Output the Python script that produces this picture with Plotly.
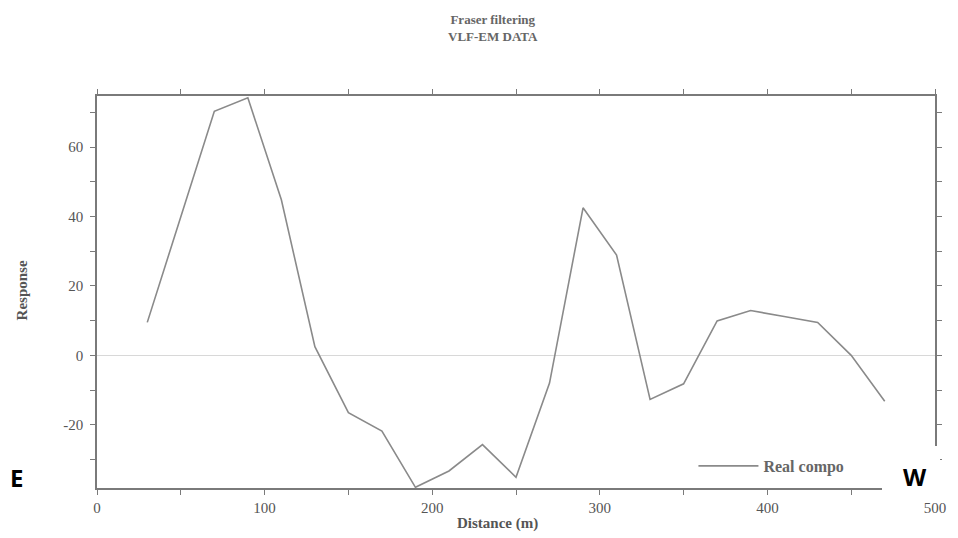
import plotly.graph_objects as go

distance = [30, 50, 70, 90, 110, 130, 150, 170, 190, 210, 230, 250,
            270, 290, 310, 330, 350, 370, 390, 410, 430, 450, 470]
real_component = [9.5, 40.0, 70.3, 74.2, 44.8, 2.5, -16.5, -21.8, -38.0, -33.3, -25.7, -35.1,
                  -8.0, 42.5, 28.9, -12.7, -8.2, 9.9, 12.9, 11.2, 9.5, 0.0, -13.2]

x_ticks = [0, 100, 200, 300, 400, 500]
y_ticks = [-20, 0, 20, 40, 60]

W, H = 958, 538
L, R, T, B = 97, 18, 96, 50
pw, ph = W - L - R, H - T - B

def px(xpix):
    return (xpix - L) / pw

def py(ypix):
    return (H - B - ypix) / ph

grey = "#7a7a7a"
txt = "#555555"
serif = "Liberation Serif, DejaVu Serif, serif"

fig = go.Figure()
fig.add_trace(go.Scatter(x=distance, y=real_component, mode="lines",
                         line=dict(color="#8a8a8a", width=1.6),
                         name="<b>Real compo</b>"))

axis_common = dict(showline=True, linecolor=grey, linewidth=1.5, mirror="ticks",
                   ticks="outside", ticklen=5, tickcolor=grey, tickwidth=1.2,
                   showgrid=False, tickfont=dict(family=serif, size=15, color=txt))

fig.update_xaxes(range=[0, 500], tickvals=x_ticks, ticktext=[str(v) for v in x_ticks],
                 minor=dict(dtick=50, tick0=0, ticks="outside", ticklen=5, tickcolor=grey, showgrid=False),
                 zeroline=False, **axis_common)
fig.update_yaxes(range=[-38.2, 74.7], tickvals=y_ticks, ticktext=[str(v) for v in y_ticks],
                 minor=dict(dtick=10, tick0=0, ticks="outside", ticklen=5, tickcolor=grey, showgrid=False),
                 zeroline=True, zerolinecolor="#d8d8d8", zerolinewidth=1, ticklabelstandoff=4,
                 **axis_common)

fig.update_layout(
    width=W, height=H,
    margin=dict(l=L, r=R, t=T, b=B),
    paper_bgcolor="white", plot_bgcolor="white",
    showlegend=True,
    legend=dict(x=px(697), y=py(466), xanchor="left", yanchor="middle", itemwidth=60,
                bgcolor="rgba(0,0,0,0)", font=dict(family=serif, size=16, color="#666666")),
    annotations=[
        dict(text="<b>Fraser filtering<br>VLF-EM DATA</b>", x=px(495), y=1 + (T - 10) / ph,
             xref="paper", yref="paper", xanchor="center", yanchor="top", showarrow=False,
             font=dict(family=serif, size=13, color="#666666")),
        dict(text="<b>Distance (m)</b>", x=px(500), y=py(523), xref="paper", yref="paper",
             xanchor="center", yanchor="middle", showarrow=False,
             font=dict(family=serif, size=15, color=txt)),
        dict(text="<b>Response</b>", x=px(22), y=py(290), xref="paper", yref="paper",
             xanchor="center", yanchor="middle", textangle=-90, showarrow=False,
             font=dict(family=serif, size=15, color=txt)),
        dict(text="", x=px(887), y=py(446), xref="paper", yref="paper",
             xanchor="left", yanchor="top", showarrow=False, width=58, height=52,
             bgcolor="white", borderpad=0, borderwidth=0),
        dict(text="<b>W</b>", x=px(920), y=py(476), xref="paper", yref="paper",
             xanchor="center", yanchor="middle", showarrow=False,
             font=dict(family="Open Sans, Liberation Sans, sans-serif", size=24, color="black")),
        dict(text="<b>E</b>", x=px(16), y=py(477), xref="paper", yref="paper",
             xanchor="center", yanchor="middle", showarrow=False,
             font=dict(family="Open Sans, Liberation Sans, sans-serif", size=24, color="black")),
    ],
)

fig.write_html("out.html")
